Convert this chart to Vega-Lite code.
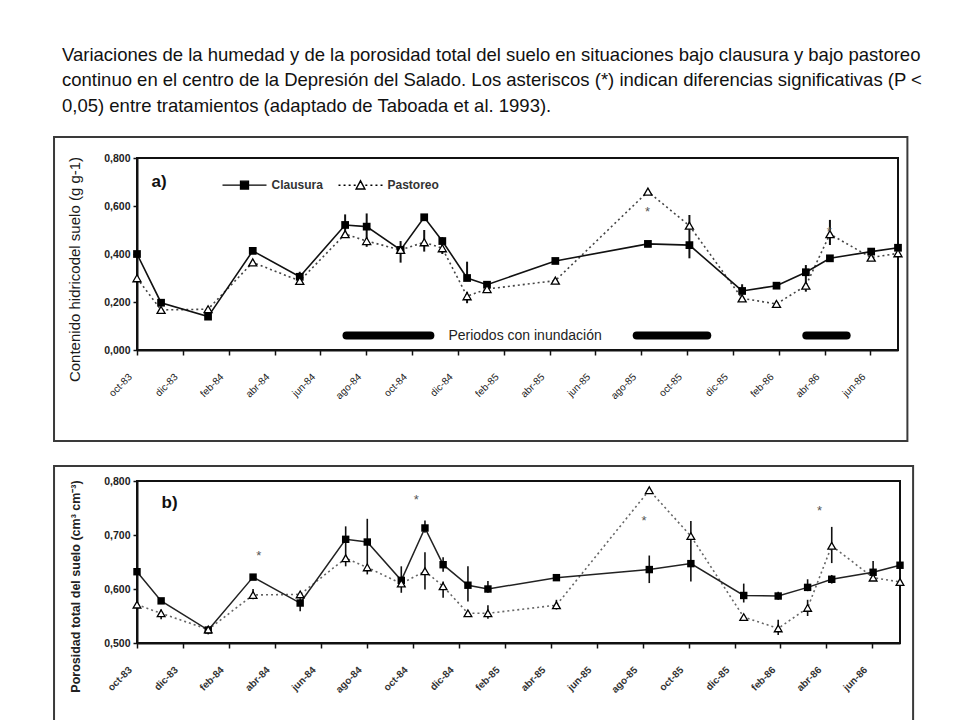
{
  "$schema": "https://vega.github.io/schema/vega-lite/v6.json",
  "background": "white",
  "padding": {"left": 52, "top": 45, "right": 10, "bottom": 0},
  "title": {
    "text": [
      "Variaciones de la humedad y de la porosidad total del suelo en situaciones bajo clausura y bajo pastoreo",
      "continuo en el centro de la Depresión del Salado. Los asteriscos (*) indican diferencias significativas (P <",
      "0,05) entre tratamientos (adaptado de Taboada et al. 1993)."
    ],
    "anchor": "start",
    "frame": "bounds",
    "font": "Liberation Sans",
    "fontSize": 18.5,
    "fontWeight": "normal",
    "color": "#111111",
    "lineHeight": 25.5,
    "dx": 10,
    "offset": 20
  },
  "config": {
    "view": {"stroke": "#111111", "strokeWidth": 2},
    "concat": {"spacing": 20},
    "axisX": {"labelAngle": -45, "labelAlign": "right", "labelBaseline": "middle"}
  },
  "datasets": {
    "humedad": [
      {"m": 0, "serie": "Clausura", "v": 0.400}, {"m": 1.05, "serie": "Clausura", "v": 0.197}, {"m": 3.1, "serie": "Clausura", "v": 0.139},
      {"m": 5.05, "serie": "Clausura", "v": 0.413}, {"m": 7.1, "serie": "Clausura", "v": 0.305}, {"m": 9.08, "serie": "Clausura", "v": 0.521},
      {"m": 10.02, "serie": "Clausura", "v": 0.514}, {"m": 11.5, "serie": "Clausura", "v": 0.417}, {"m": 12.53, "serie": "Clausura", "v": 0.553},
      {"m": 13.32, "serie": "Clausura", "v": 0.454}, {"m": 14.4, "serie": "Clausura", "v": 0.300}, {"m": 15.27, "serie": "Clausura", "v": 0.272},
      {"m": 18.25, "serie": "Clausura", "v": 0.371}, {"m": 22.29, "serie": "Clausura", "v": 0.442}, {"m": 24.1, "serie": "Clausura", "v": 0.437},
      {"m": 26.4, "serie": "Clausura", "v": 0.246}, {"m": 27.9, "serie": "Clausura", "v": 0.268}, {"m": 29.18, "serie": "Clausura", "v": 0.324},
      {"m": 30.23, "serie": "Clausura", "v": 0.382}, {"m": 32.03, "serie": "Clausura", "v": 0.410}, {"m": 33.2, "serie": "Clausura", "v": 0.426},
      {"m": 0, "serie": "Pastoreo", "v": 0.299}, {"m": 1.05, "serie": "Pastoreo", "v": 0.167}, {"m": 3.1, "serie": "Pastoreo", "v": 0.170},
      {"m": 5.05, "serie": "Pastoreo", "v": 0.365}, {"m": 7.1, "serie": "Pastoreo", "v": 0.288}, {"m": 9.08, "serie": "Pastoreo", "v": 0.483},
      {"m": 10.02, "serie": "Pastoreo", "v": 0.454}, {"m": 11.5, "serie": "Pastoreo", "v": 0.417}, {"m": 12.53, "serie": "Pastoreo", "v": 0.449},
      {"m": 13.32, "serie": "Pastoreo", "v": 0.424}, {"m": 14.4, "serie": "Pastoreo", "v": 0.224}, {"m": 15.27, "serie": "Pastoreo", "v": 0.254},
      {"m": 18.25, "serie": "Pastoreo", "v": 0.289}, {"m": 22.29, "serie": "Pastoreo", "v": 0.660}, {"m": 24.1, "serie": "Pastoreo", "v": 0.518},
      {"m": 26.4, "serie": "Pastoreo", "v": 0.215}, {"m": 27.9, "serie": "Pastoreo", "v": 0.192}, {"m": 29.18, "serie": "Pastoreo", "v": 0.268},
      {"m": 30.23, "serie": "Pastoreo", "v": 0.483}, {"m": 32.03, "serie": "Pastoreo", "v": 0.385}, {"m": 33.2, "serie": "Pastoreo", "v": 0.403}
    ],
    "humedad_error": [
      {"m": 7.1, "lo": 0.278, "hi": 0.326}, {"m": 9.08, "lo": 0.48, "hi": 0.565}, {"m": 10.02, "lo": 0.43, "hi": 0.569},
      {"m": 11.5, "lo": 0.364, "hi": 0.454}, {"m": 12.53, "lo": 0.41, "hi": 0.50}, {"m": 13.32, "lo": 0.40, "hi": 0.47},
      {"m": 14.4, "lo": 0.30, "hi": 0.368}, {"m": 14.4, "lo": 0.195, "hi": 0.243}, {"m": 15.27, "lo": 0.262, "hi": 0.285},
      {"m": 24.1, "lo": 0.382, "hi": 0.5625}, {"m": 26.4, "lo": 0.232, "hi": 0.274}, {"m": 29.18, "lo": 0.243, "hi": 0.354},
      {"m": 30.23, "lo": 0.4375, "hi": 0.542}, {"m": 32.03, "lo": 0.395, "hi": 0.42}
    ],
    "humedad_ast": [{"m": 22.27, "v": 0.586}, {"m": 30.2, "v": 0.506}],
    "inundacion": [
      {"inicio": 9.14, "fin": 12.8, "etiqueta": "Periodos con inundación"},
      {"inicio": 21.8, "fin": 24.88, "etiqueta": ""},
      {"inicio": 29.2, "fin": 30.96, "etiqueta": ""}
    ],
    "porosidad": [
      {"m": 0, "serie": "Clausura", "v": 0.632}, {"m": 1.05, "serie": "Clausura", "v": 0.578}, {"m": 3.1, "serie": "Clausura", "v": 0.524},
      {"m": 5.05, "serie": "Clausura", "v": 0.622}, {"m": 7.1, "serie": "Clausura", "v": 0.574}, {"m": 9.08, "serie": "Clausura", "v": 0.692},
      {"m": 10.02, "serie": "Clausura", "v": 0.687}, {"m": 11.5, "serie": "Clausura", "v": 0.616}, {"m": 12.53, "serie": "Clausura", "v": 0.713},
      {"m": 13.32, "serie": "Clausura", "v": 0.645}, {"m": 14.4, "serie": "Clausura", "v": 0.607}, {"m": 15.27, "serie": "Clausura", "v": 0.600},
      {"m": 18.25, "serie": "Clausura", "v": 0.621}, {"m": 22.29, "serie": "Clausura", "v": 0.636}, {"m": 24.1, "serie": "Clausura", "v": 0.647},
      {"m": 26.4, "serie": "Clausura", "v": 0.588}, {"m": 27.9, "serie": "Clausura", "v": 0.587}, {"m": 29.18, "serie": "Clausura", "v": 0.603},
      {"m": 30.23, "serie": "Clausura", "v": 0.618}, {"m": 32.03, "serie": "Clausura", "v": 0.631}, {"m": 33.2, "serie": "Clausura", "v": 0.644},
      {"m": 0, "serie": "Pastoreo", "v": 0.571}, {"m": 1.05, "serie": "Pastoreo", "v": 0.555}, {"m": 3.1, "serie": "Pastoreo", "v": 0.525},
      {"m": 5.05, "serie": "Pastoreo", "v": 0.589}, {"m": 7.1, "serie": "Pastoreo", "v": 0.590}, {"m": 9.08, "serie": "Pastoreo", "v": 0.657},
      {"m": 10.02, "serie": "Pastoreo", "v": 0.640}, {"m": 11.5, "serie": "Pastoreo", "v": 0.610}, {"m": 12.53, "serie": "Pastoreo", "v": 0.633},
      {"m": 13.32, "serie": "Pastoreo", "v": 0.605}, {"m": 14.4, "serie": "Pastoreo", "v": 0.555}, {"m": 15.27, "serie": "Pastoreo", "v": 0.555},
      {"m": 18.25, "serie": "Pastoreo", "v": 0.570}, {"m": 22.29, "serie": "Pastoreo", "v": 0.783}, {"m": 24.1, "serie": "Pastoreo", "v": 0.698},
      {"m": 26.4, "serie": "Pastoreo", "v": 0.548}, {"m": 27.9, "serie": "Pastoreo", "v": 0.527}, {"m": 29.18, "serie": "Pastoreo", "v": 0.565},
      {"m": 30.23, "serie": "Pastoreo", "v": 0.680}, {"m": 32.03, "serie": "Pastoreo", "v": 0.621}, {"m": 33.2, "serie": "Pastoreo", "v": 0.613}
    ],
    "porosidad_error": [
      {"m": 1.05, "lo": 0.544, "hi": 0.562}, {"m": 3.1, "lo": 0.516, "hi": 0.531}, {"m": 5.05, "lo": 0.581, "hi": 0.600},
      {"m": 7.1, "lo": 0.559, "hi": 0.583}, {"m": 9.08, "lo": 0.642, "hi": 0.716}, {"m": 10.02, "lo": 0.627, "hi": 0.730},
      {"m": 11.5, "lo": 0.593, "hi": 0.642}, {"m": 12.53, "lo": 0.704, "hi": 0.727}, {"m": 12.53, "lo": 0.599, "hi": 0.668},
      {"m": 13.32, "lo": 0.632, "hi": 0.659}, {"m": 13.32, "lo": 0.584, "hi": 0.614}, {"m": 14.4, "lo": 0.577, "hi": 0.642},
      {"m": 15.27, "lo": 0.593, "hi": 0.615}, {"m": 15.27, "lo": 0.545, "hi": 0.570}, {"m": 18.25, "lo": 0.562, "hi": 0.580},
      {"m": 22.29, "lo": 0.611, "hi": 0.662}, {"m": 24.1, "lo": 0.614, "hi": 0.726}, {"m": 26.4, "lo": 0.575, "hi": 0.610},
      {"m": 27.9, "lo": 0.580, "hi": 0.595}, {"m": 27.9, "lo": 0.515, "hi": 0.543}, {"m": 29.18, "lo": 0.596, "hi": 0.618},
      {"m": 29.18, "lo": 0.55, "hi": 0.58}, {"m": 30.23, "lo": 0.648, "hi": 0.715}, {"m": 30.23, "lo": 0.61, "hi": 0.626},
      {"m": 32.03, "lo": 0.619, "hi": 0.652}
    ],
    "porosidad_ast": [{"m": 5.3, "v": 0.666}, {"m": 12.15, "v": 0.771}, {"m": 22.06, "v": 0.732}, {"m": 29.7, "v": 0.750}]
  },
  "vconcat": [
    {
      "width": 761,
      "height": 192,
      "layer": [
        {
          "data": {"values": [{}]},
          "mark": {"type": "rect", "filled": false, "stroke": "#3a3a3a", "strokeWidth": 2, "clip": false},
          "encoding": {
            "x": {"datum": -3.62, "type": "quantitative", "scale": {"domain": [0, 33.2], "nice": false, "zero": false}},
            "x2": {"datum": 33.61},
            "y": {"datum": -0.379, "type": "quantitative", "scale": {"domain": [0, 0.8], "nice": false}},
            "y2": {"datum": 0.8875}
          }
        },
        {
          "data": {"name": "inundacion"},
          "mark": {"type": "rule", "strokeWidth": 8, "strokeCap": "round", "color": "#000000"},
          "encoding": {
            "x": {"field": "inicio", "type": "quantitative", "scale": {"domain": [0, 33.2], "nice": false, "zero": false}},
            "x2": {"field": "fin"},
            "y": {"datum": 0.06, "type": "quantitative", "scale": {"domain": [0, 0.8], "nice": false}}
          }
        },
        {
          "data": {"name": "inundacion"},
          "mark": {"type": "text", "align": "left", "baseline": "middle", "dx": 18, "font": "Liberation Sans", "fontSize": 14, "color": "#222222"},
          "encoding": {
            "x": {"field": "fin", "type": "quantitative", "scale": {"domain": [0, 33.2], "nice": false, "zero": false}},
            "y": {"datum": 0.06, "type": "quantitative", "scale": {"domain": [0, 0.8], "nice": false}},
            "text": {"field": "etiqueta"}
          }
        },
        {
          "data": {"name": "humedad_error"},
          "mark": {"type": "rule", "strokeWidth": 2, "color": "#111111"},
          "encoding": {
            "x": {"field": "m", "type": "quantitative", "scale": {"domain": [0, 33.2], "nice": false, "zero": false}},
            "y": {"field": "lo", "type": "quantitative", "scale": {"domain": [0, 0.8], "nice": false}},
            "y2": {"field": "hi"}
          }
        },
        {
          "data": {"name": "humedad"},
          "transform": [{"filter": "datum.serie === 'Pastoreo'"}],
          "mark": {"type": "line", "strokeWidth": 1.6, "strokeDash": [2, 3], "color": "#444444"},
          "encoding": {
            "x": {"field": "m", "type": "quantitative", "scale": {"domain": [0, 33.2], "nice": false, "zero": false}},
            "y": {"field": "v", "type": "quantitative", "scale": {"domain": [0, 0.8], "nice": false}}
          }
        },
        {
          "data": {"name": "humedad"},
          "transform": [{"filter": "datum.serie === 'Clausura'"}],
          "mark": {"type": "line", "strokeWidth": 1.6, "color": "#111111"},
          "encoding": {
            "x": {
              "field": "m", "type": "quantitative",
              "scale": {"domain": [0, 33.2], "nice": false, "zero": false},
              "axis": {
                "values": [0, 2, 4, 6, 8, 10, 12, 14, 16, 18, 20, 22, 24, 26, 28, 30, 32],
                "labelExpr": "['oct-83','dic-83','feb-84','abr-84','jun-84','ago-84','oct-84','dic-84','feb-85','abr-85','jun-85','ago-85','oct-85','dic-85','feb-86','abr-86','jun-86'][round(datum.value/2)]",
                "labelAngle": -45, "labelAlign": "right", "labelBaseline": "middle",
                "labelFont": "Liberation Sans", "labelFontSize": 10, "labelColor": "#222222",
                "labelPadding": 20, "labelOffset": -7, "labelOverlap": false, "labelBound": false, "labelFlush": false,
                "tickSize": 5, "tickWidth": 1.5, "tickColor": "#111111",
                "domainColor": "#111111", "domainWidth": 2, "grid": false, "title": null,
                "encode": {"labels": {"update": {"angle": {"value": -45}}}}
              }
            },
            "y": {
              "field": "v", "type": "quantitative",
              "scale": {"domain": [0, 0.8], "nice": false},
              "axis": {
                "values": [0, 0.2, 0.4, 0.6, 0.8],
                "labelExpr": "replace(format(datum.value, '.3f'), '.', ',')",
                "labelFont": "Liberation Sans", "labelFontSize": 10.5, "labelFontWeight": "bold", "labelColor": "#222222",
                "labelPadding": 3, "tickSize": 4, "tickWidth": 1.5, "tickColor": "#111111",
                "domainColor": "#111111", "domainWidth": 2, "grid": false,
                "title": "Contenido hidricodel suelo (g g-1)",
                "titleFont": "Liberation Sans", "titleFontSize": 15, "titleFontWeight": "normal", "titleColor": "#1a1a1a",
                "titlePadding": 21, "titleY": 111
              }
            }
          }
        },
        {
          "data": {"name": "humedad"},
          "transform": [{"filter": "datum.serie === 'Clausura'"}],
          "mark": {"type": "point", "shape": "square", "filled": true, "size": 60, "color": "#000000", "opacity": 1},
          "encoding": {
            "x": {"field": "m", "type": "quantitative", "scale": {"domain": [0, 33.2], "nice": false, "zero": false}},
            "y": {"field": "v", "type": "quantitative", "scale": {"domain": [0, 0.8], "nice": false}}
          }
        },
        {
          "data": {"name": "humedad"},
          "transform": [{"filter": "datum.serie === 'Pastoreo'"}],
          "mark": {"type": "point", "shape": "triangle-up", "filled": false, "fill": "white", "stroke": "#000000", "strokeWidth": 1.3, "size": 65, "opacity": 1},
          "encoding": {
            "x": {"field": "m", "type": "quantitative", "scale": {"domain": [0, 33.2], "nice": false, "zero": false}},
            "y": {"field": "v", "type": "quantitative", "scale": {"domain": [0, 0.8], "nice": false}}
          }
        },
        {
          "data": {"name": "humedad_ast"},
          "mark": {"type": "text", "text": "*", "font": "Liberation Sans", "fontSize": 13, "color": "#555555", "baseline": "alphabetic", "dy": 7},
          "encoding": {
            "x": {"field": "m", "type": "quantitative", "scale": {"domain": [0, 33.2], "nice": false, "zero": false}},
            "y": {"field": "v", "type": "quantitative", "scale": {"domain": [0, 0.8], "nice": false}}
          }
        },
        {
          "data": {"values": [{}]},
          "mark": {"type": "text", "text": "a)", "align": "left", "baseline": "middle", "font": "Liberation Sans", "fontSize": 17, "fontWeight": "bold", "color": "#111111"},
          "encoding": {
            "x": {"datum": 0.63, "type": "quantitative", "scale": {"domain": [0, 33.2], "nice": false, "zero": false}},
            "y": {"datum": 0.702, "type": "quantitative", "scale": {"domain": [0, 0.8], "nice": false}}
          }
        },
        {
          "data": {"name": "humedad"},
          "mark": {"type": "point", "opacity": 0, "stroke": "#000000"},
          "encoding": {
            "x": {"field": "m", "type": "quantitative", "scale": {"domain": [0, 33.2], "nice": false, "zero": false}},
            "y": {"field": "v", "type": "quantitative", "scale": {"domain": [0, 0.8], "nice": false}},
            "shape": {
              "field": "serie", "type": "nominal",
              "scale": {
                "domain": ["Clausura", "Pastoreo"],
                "range": [
                  "M-1,0H1M-0.18,-0.18H0.18V0.18H-0.18Z",
                  "M-1,0h0.09M-0.77,0h0.09M-0.54,0h0.09M-0.31,0h0.09M0.22,0h0.09M0.45,0h0.09M0.68,0h0.09M0.91,0h0.09M-0.2,0.17L0,-0.2L0.2,0.17Z"
                ]
              },
              "legend": {
                "orient": "none", "legendX": 84.5, "legendY": 4, "direction": "horizontal", "title": null,
                "symbolSize": 1936, "symbolStrokeColor": "#000000", "symbolStrokeWidth": 1.4, "symbolOpacity": 1,
                "labelFont": "Liberation Sans", "labelFontSize": 12, "labelFontWeight": "bold", "labelColor": "#333333",
                "labelOffset": 4, "columnPadding": 12
              }
            },
            "fill": {
              "field": "serie", "type": "nominal",
              "scale": {"domain": ["Clausura", "Pastoreo"], "range": ["#000000", "#ffffff"]},
              "legend": {
                "orient": "none", "legendX": 84.5, "legendY": 4, "direction": "horizontal", "title": null,
                "symbolSize": 1936, "symbolStrokeColor": "#000000", "symbolStrokeWidth": 1.4, "symbolOpacity": 1,
                "labelFont": "Liberation Sans", "labelFontSize": 12, "labelFontWeight": "bold", "labelColor": "#333333",
                "labelOffset": 4, "columnPadding": 12
              }
            },
            "stroke": {
              "field": "serie", "type": "nominal",
              "scale": {"domain": ["Clausura", "Pastoreo"], "range": ["#000000", "#000000"]},
              "legend": {
                "orient": "none", "legendX": 84.5, "legendY": 4, "direction": "horizontal", "title": null,
                "symbolSize": 1936, "symbolStrokeColor": "#000000", "symbolStrokeWidth": 1.4, "symbolOpacity": 1,
                "labelFont": "Liberation Sans", "labelFontSize": 12, "labelFontWeight": "bold", "labelColor": "#333333",
                "labelOffset": 4, "columnPadding": 12
              }
            }
          }
        }
      ]
    },
    {
      "width": 763,
      "height": 162,
      "layer": [
        {
          "data": {"values": [{}]},
          "mark": {"type": "rect", "filled": false, "stroke": "#3a3a3a", "strokeWidth": 2, "clip": false},
          "encoding": {
            "x": {"datum": -3.61, "type": "quantitative", "scale": {"domain": [0, 33.2], "nice": false, "zero": false}},
            "x2": {"datum": 33.77},
            "y": {"datum": 0.333, "type": "quantitative", "scale": {"domain": [0.5, 0.8], "nice": false, "zero": false}},
            "y2": {"datum": 0.8278}
          }
        },
        {
          "data": {"name": "porosidad_error"},
          "mark": {"type": "rule", "strokeWidth": 1.6, "color": "#111111"},
          "encoding": {
            "x": {"field": "m", "type": "quantitative", "scale": {"domain": [0, 33.2], "nice": false, "zero": false}},
            "y": {"field": "lo", "type": "quantitative", "scale": {"domain": [0.5, 0.8], "nice": false, "zero": false}},
            "y2": {"field": "hi"}
          }
        },
        {
          "data": {"name": "porosidad"},
          "transform": [{"filter": "datum.serie === 'Pastoreo'"}],
          "mark": {"type": "line", "strokeWidth": 1.6, "strokeDash": [2, 3], "color": "#666666"},
          "encoding": {
            "x": {"field": "m", "type": "quantitative", "scale": {"domain": [0, 33.2], "nice": false, "zero": false}},
            "y": {"field": "v", "type": "quantitative", "scale": {"domain": [0.5, 0.8], "nice": false, "zero": false}}
          }
        },
        {
          "data": {"name": "porosidad"},
          "transform": [{"filter": "datum.serie === 'Clausura'"}],
          "mark": {"type": "line", "strokeWidth": 1.5, "color": "#222222"},
          "encoding": {
            "x": {
              "field": "m", "type": "quantitative",
              "scale": {"domain": [0, 33.2], "nice": false, "zero": false},
              "axis": {
                "values": [0, 2, 4, 6, 8, 10, 12, 14, 16, 18, 20, 22, 24, 26, 28, 30, 32],
                "labelExpr": "['oct-83','dic-83','feb-84','abr-84','jun-84','ago-84','oct-84','dic-84','feb-85','abr-85','jun-85','ago-85','oct-85','dic-85','feb-86','abr-86','jun-86'][round(datum.value/2)]",
                "labelAngle": -45, "labelAlign": "right", "labelBaseline": "middle",
                "labelFont": "Liberation Sans", "labelFontSize": 10, "labelFontWeight": "bold", "labelColor": "#333333",
                "labelPadding": 20, "labelOffset": -7, "labelOverlap": false, "labelBound": false, "labelFlush": false,
                "tickSize": 5, "tickWidth": 1.5, "tickColor": "#111111",
                "domainColor": "#111111", "domainWidth": 2, "grid": false, "title": null,
                "encode": {"labels": {"update": {"angle": {"value": -45}}}}
              }
            },
            "y": {
              "field": "v", "type": "quantitative",
              "scale": {"domain": [0.5, 0.8], "nice": false, "zero": false},
              "axis": {
                "values": [0.5, 0.6, 0.7, 0.8],
                "labelExpr": "replace(format(datum.value, '.3f'), '.', ',')",
                "labelFont": "Liberation Sans", "labelFontSize": 10.5, "labelFontWeight": "bold", "labelColor": "#222222",
                "labelPadding": 3, "tickSize": 4, "tickWidth": 1.5, "tickColor": "#111111",
                "domainColor": "#111111", "domainWidth": 2, "grid": false,
                "title": "Porosidad total del suelo (cm³ cm⁻³)",
                "titleFont": "Liberation Sans", "titleFontSize": 12.5, "titleFontWeight": "bold", "titleColor": "#222222",
                "titlePadding": 21, "titleY": 105
              }
            }
          }
        },
        {
          "data": {"name": "porosidad"},
          "transform": [{"filter": "datum.serie === 'Clausura'"}],
          "mark": {"type": "point", "shape": "square", "filled": true, "size": 55, "color": "#000000", "opacity": 1},
          "encoding": {
            "x": {"field": "m", "type": "quantitative", "scale": {"domain": [0, 33.2], "nice": false, "zero": false}},
            "y": {"field": "v", "type": "quantitative", "scale": {"domain": [0.5, 0.8], "nice": false, "zero": false}}
          }
        },
        {
          "data": {"name": "porosidad"},
          "transform": [{"filter": "datum.serie === 'Pastoreo'"}],
          "mark": {"type": "point", "shape": "triangle-up", "filled": false, "fill": "white", "stroke": "#000000", "strokeWidth": 1.3, "size": 60, "opacity": 1},
          "encoding": {
            "x": {"field": "m", "type": "quantitative", "scale": {"domain": [0, 33.2], "nice": false, "zero": false}},
            "y": {"field": "v", "type": "quantitative", "scale": {"domain": [0.5, 0.8], "nice": false, "zero": false}}
          }
        },
        {
          "data": {"name": "porosidad_ast"},
          "mark": {"type": "text", "text": "*", "font": "Liberation Sans", "fontSize": 13, "color": "#555555", "baseline": "alphabetic", "dy": 7},
          "encoding": {
            "x": {"field": "m", "type": "quantitative", "scale": {"domain": [0, 33.2], "nice": false, "zero": false}},
            "y": {"field": "v", "type": "quantitative", "scale": {"domain": [0.5, 0.8], "nice": false, "zero": false}}
          }
        },
        {
          "data": {"values": [{}]},
          "mark": {"type": "text", "text": "b)", "align": "left", "baseline": "middle", "font": "Liberation Sans", "fontSize": 17, "fontWeight": "bold", "color": "#111111"},
          "encoding": {
            "x": {"datum": 1.07, "type": "quantitative", "scale": {"domain": [0, 33.2], "nice": false, "zero": false}},
            "y": {"datum": 0.76, "type": "quantitative", "scale": {"domain": [0.5, 0.8], "nice": false, "zero": false}}
          }
        }
      ]
    }
  ]
}
